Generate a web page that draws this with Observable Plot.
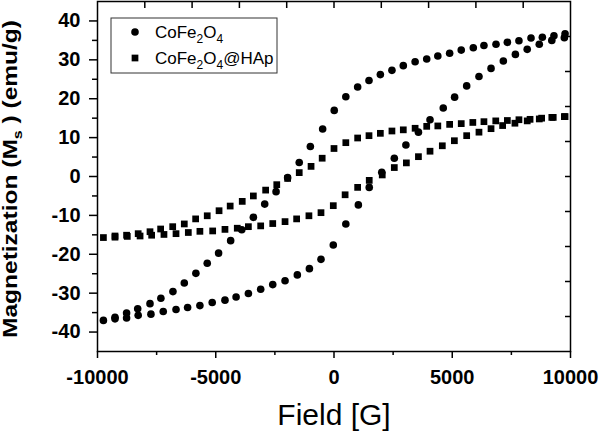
<!DOCTYPE html>
<html><head><meta charset="utf-8">
<script src="https://cdn.jsdelivr.net/npm/d3@7"></script>
<script src="https://cdn.jsdelivr.net/npm/@observablehq/plot@0.6"></script>
<style>body{margin:0;background:#fff} svg{display:block}</style>
</head><body><div id="chart"></div>
<script>
// CoFe2O4 (circles): descending-field branch, then ascending-field branch
const cofeDescField = [9770,9300,8810,8330,7820,7330,6850,6340,5890,5380,4890,4390,3920,3430,2930,2450,1960,1480,1000,500,10,-480,-1000,-1470,-1960,-2450,-2930,-3410,-3900,-4370,-4880,-5360,-5840,-6330,-6810,-7320,-7780,-8300,-8770,-9260,-9750];
const cofeDescM = [36.7,36.2,35.8,35.6,34.9,34.5,34.0,33.7,33.1,32.5,31.7,31.0,30.2,29.5,28.5,27.3,26.2,24.7,23.0,20.5,17.0,12.2,7.7,3.6,-0.3,-3.9,-7.1,-10.5,-13.7,-16.5,-19.7,-22.3,-24.9,-27.4,-29.6,-31.3,-32.7,-34.0,-35.1,-36.2,-37.0];
const cofeAscField = [-9260,-8770,-8280,-7740,-7220,-6680,-6190,-5670,-5150,-4610,-4140,-3620,-3100,-2590,-2070,-1550,-1040,-550,-30,500,1030,1490,2020,2550,3040,3570,4060,4620,5100,5610,6130,6640,7160,7670,8170,8680,9210,9740];
const cofeAscM = [-36.6,-36.4,-35.7,-35.4,-34.7,-34.2,-33.7,-33.2,-32.4,-31.8,-31.0,-30.1,-29.0,-27.8,-26.8,-25.3,-23.7,-21.3,-17.6,-12.2,-7.3,-2.8,1.1,4.7,8.1,11.4,14.6,17.6,20.4,23.3,25.7,27.8,29.7,31.4,32.7,34.0,35.0,35.7];

// CoFe2O4@HAp (squares)
const hapDescField = [9770,9270,8780,8290,7820,7330,6840,6340,5870,5380,4890,4390,3920,3430,2930,2450,1960,1480,1000,500,0,-500,-970,-1470,-1960,-2420,-2890,-3410,-3880,-4390,-4860,-5360,-5850,-6330,-6820,-7330,-7780,-8280,-8770,-9260,-9750];
const hapDescM = [15.4,15.2,15.0,14.7,14.6,14.4,14.3,14.1,13.9,13.6,13.4,13.0,12.9,12.4,12.0,11.7,11.1,10.5,9.9,8.7,7.2,4.7,2.6,1.0,-0.5,-2.1,-3.5,-5.0,-6.4,-7.6,-8.8,-10.1,-10.9,-12.2,-12.9,-13.5,-14.2,-14.7,-15.1,-15.3,-15.7];
const hapAscField = [-9260,-8740,-8200,-7710,-7190,-6680,-6160,-5670,-5130,-4610,-4090,-3620,-3100,-2590,-2070,-1580,-1060,-550,-30,470,1000,1490,2040,2550,3060,3570,4060,4580,5090,5610,6130,6640,7130,7650,8170,8680,9210,9740];
const hapAscM = [-15.6,-15.4,-15.3,-15.1,-14.9,-14.7,-14.4,-14.1,-14.0,-13.6,-13.3,-12.9,-12.7,-12.1,-11.6,-10.9,-10.1,-9.3,-7.5,-4.7,-2.8,-1.0,0.4,2.3,3.5,5.1,6.5,7.9,9.2,10.5,11.4,12.3,13.1,13.7,14.3,14.8,15.2,15.4];

const xMajorTicks = [-10000,-5000,0,5000,10000];
const xMinorTicks = [-7500,-2500,2500,7500];
const xTopTicks = [-8000,-6000,-4000,-2000,0,2000,4000,6000,8000];
const yMajorTicks = [-40,-30,-20,-10,0,10,20,30,40];
const yMinorTicks = [-35,-25,-15,-5,5,15,25,35];
const yRightTicks = [-36,-27,-18,-9,0,9,18,27,36];

const xDomain = [-10000, 10000];
const yDomain = [-45, 45];
const xTitle = "Field [G]";
const seriesNames = ["CoFe2O4", "CoFe2O4@HAp"];

const toRows = (fs, ms, series) => fs.map((f, i) => ({field: f, m: ms[i], series}));
const cofeRows = [...toRows(cofeDescField, cofeDescM, seriesNames[0]), ...toRows(cofeAscField, cofeAscM, seriesNames[0])];
const hapRows = [...toRows(hapDescField, hapDescM, seriesNames[1]), ...toRows(hapAscField, hapAscM, seriesNames[1])];

const FONT = "'Liberation Sans', Arial, Helvetica, sans-serif";
const blank = () => "";

const chart = Plot.plot({
  width: 600,
  height: 432,
  marginLeft: 97,
  marginRight: 30,
  marginTop: 1,
  marginBottom: 81,
  style: {fontFamily: FONT, background: "white", color: "black", overflow: "visible"},
  x: {domain: xDomain},
  y: {domain: yDomain},
  marks: [
    Plot.axisX(xMajorTicks, {anchor: "bottom", tickSize: 7, tickPadding: 11, strokeWidth: 1.5, fontSize: 20, fontWeight: "bold", tickFormat: d => String(d), label: null}),
    Plot.axisX(xMinorTicks, {anchor: "bottom", tickSize: 4, strokeWidth: 1.5, tickFormat: blank, label: null}),
    Plot.axisX(xTopTicks, {anchor: "top", tickSize: 6, dy: 6, strokeWidth: 1.5, tickFormat: blank, label: null}),
    Plot.axisY(yMajorTicks, {anchor: "left", tickSize: 8, tickPadding: 9, strokeWidth: 1.5, fontSize: 20, fontWeight: "bold", tickFormat: d => String(d), label: null}),
    Plot.axisY(yMinorTicks, {anchor: "left", tickSize: 5, strokeWidth: 1.5, tickFormat: blank, label: null}),
    Plot.axisY(yRightTicks, {anchor: "right", tickSize: 6, dx: -6, strokeWidth: 1.5, tickFormat: blank, label: null}),
    Plot.frame({stroke: "black", strokeWidth: 1.5}),
    Plot.dot(cofeRows, {x: "field", y: "m", r: 3.8, fill: "black", symbol: "circle"}),
    Plot.dot(hapRows, {x: "field", y: "m", r: 3.8, fill: "black", symbol: "square"})
  ]
});
document.getElementById("chart").append(chart);

const svg = d3.select(chart);

// Axis titles
const yt = svg.append("text")
  .attr("transform", "translate(17,179) rotate(-90)")
  .attr("text-anchor", "middle")
  .attr("font-family", FONT)
  .attr("font-size", 20)
  .attr("font-weight", "bold")
  .attr("fill", "black")
  .attr("textLength", 318)
  .attr("lengthAdjust", "spacingAndGlyphs");
yt.append("tspan").text("Magnetization (M");
yt.append("tspan").attr("font-size", 13).attr("dy", 5).text("s");
yt.append("tspan").attr("dy", -5).text(" ) (emu/g)");

svg.append("text")
  .attr("x", 334).attr("y", 425)
  .attr("text-anchor", "middle")
  .attr("font-family", FONT)
  .attr("font-size", 30)
  .attr("fill", "black")
  .text(xTitle);

// Legend
const lg = svg.append("g").attr("font-family", FONT).attr("font-size", 17).attr("fill", "black").attr("text-anchor", "start");
lg.append("rect").attr("x", 111).attr("y", 18).attr("width", 166).attr("height", 55)
  .attr("fill", "white").attr("stroke", "#333").attr("stroke-width", 1);
const legendItems = [
  {name: seriesNames[0], symbol: d3.symbolCircle, y: 32},
  {name: seriesNames[1], symbol: d3.symbolSquare, y: 58}
];
legendItems.forEach(it => {
  lg.append("path").attr("d", d3.symbol(it.symbol, Math.PI * 3.8 * 3.8)())
    .attr("transform", `translate(135,${it.y})`).attr("fill", "black");
  const t = lg.append("text").attr("x", 155).attr("y", it.y + 6).attr("text-anchor", "start");
  const parts = it.name.match(/[A-Za-z@]+|\d+/g);
  let sub = false;
  parts.forEach(p => {
    const isNum = /^\d+$/.test(p);
    const ts = t.append("tspan").text(p);
    if (isNum && !sub) { ts.attr("font-size", 12).attr("dy", 5); sub = true; }
    else if (!isNum && sub) { ts.attr("dy", -5); sub = false; }
    else if (isNum) ts.attr("font-size", 12);
  });
});
</script>
</body></html>
